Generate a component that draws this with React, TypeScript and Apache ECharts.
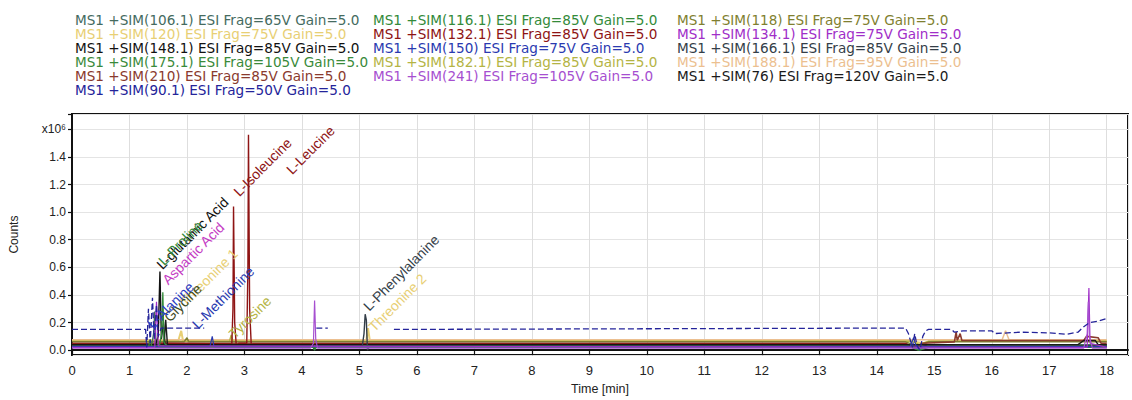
import { useEffect, useRef } from 'react';
import * as echarts from 'echarts';

const FONT = '"Liberation Sans", Arial, sans-serif';
const LEGEND_FONT = '"DejaVu Sans", Verdana, sans-serif';

// ---- tick labels ----
const xTickValues = [0, 1, 2, 3, 4, 5, 6, 7, 8, 9, 10, 11, 12, 13, 14, 15, 16, 17, 18];
const yTickValues = [0, 0.2, 0.4, 0.6, 0.8, 1.0, 1.2, 1.4, 1.6];
const yTickLabels = ['0.0', '0.2', '0.4', '0.6', '0.8', '1.0', '1.2', '1.4', 'x10\u2076'];

// ---- channel names (legend) ----
const legendCol1 = [
  'MS1 +SIM(106.1) ESI Frag=65V Gain=5.0',
  'MS1 +SIM(120) ESI Frag=75V Gain=5.0',
  'MS1 +SIM(148.1) ESI Frag=85V Gain=5.0',
  'MS1 +SIM(175.1) ESI Frag=105V Gain=5.0',
  'MS1 +SIM(210) ESI Frag=85V Gain=5.0',
  'MS1 +SIM(90.1) ESI Frag=50V Gain=5.0',
];
const legendCol2 = [
  'MS1 +SIM(116.1) ESI Frag=85V Gain=5.0',
  'MS1 +SIM(132.1) ESI Frag=85V Gain=5.0',
  'MS1 +SIM(150) ESI Frag=75V Gain=5.0',
  'MS1 +SIM(182.1) ESI Frag=85V Gain=5.0',
  'MS1 +SIM(241) ESI Frag=105V Gain=5.0',
];
const legendCol3 = [
  'MS1 +SIM(118) ESI Frag=75V Gain=5.0',
  'MS1 +SIM(134.1) ESI Frag=75V Gain=5.0',
  'MS1 +SIM(166.1) ESI Frag=85V Gain=5.0',
  'MS1 +SIM(188.1) ESI Frag=95V Gain=5.0',
  'MS1 +SIM(76) ESI Frag=120V Gain=5.0',
];

// ---- series values: [time (min), counts (x10^6)] ----
const s106 = [[0, 0.04], [1.3, 0.04], [1.38, 0.02], [1.42, 0.12], [1.44, 0.28], [1.46, 0.06], [1.5, 0.04], [4.18, 0.04], [4.21, 0.005], [4.26, 0.04], [14.55, 0.04], [14.7, 0.015], [14.85, 0.04], [18, 0.04]];
const s120 = [[0, 0.07], [1.85, 0.07], [1.9, 0.14], [1.93, 0.07], [5.12, 0.07], [5.15, 0.16], [5.18, 0.07], [14.55, 0.07], [14.8, 0.05], [15, 0.07], [18, 0.07]];
const s148 = [[0, 0.035], [1.45, 0.035], [1.5, 0.1], [1.53, 0.57], [1.555, 0.08], [1.59, 0.2], [1.62, 0.03], [1.7, 0.035], [4.19, 0.035], [4.22, 0.0], [4.26, 0.035], [14.55, 0.035], [14.7, 0.005], [14.85, 0.035], [18, 0.03]];
const s175 = [[0, 0.02], [1.33, 0.02], [1.36, 0.08], [1.39, 0.02], [14.6, 0.02], [14.75, 0.0], [14.9, 0.02], [18, 0.02]];
const s210 = [[0, 0.05], [14.5, 0.05], [14.65, 0.02], [14.8, 0.05], [15.35, 0.06], [15.38, 0.13], [15.4, 0.07], [15.45, 0.12], [15.48, 0.07], [17.6, 0.07], [17.65, 0.1], [17.85, 0.09], [17.9, 0.05], [18, 0.05]];
const s90 = [[0, 0.15], [1.28, 0.15], [1.3, 0.02], [1.33, 0.3], [1.36, 0.05], [1.4, 0.38], [1.43, 0.08], [1.47, 0.33], [1.5, 0.1], [1.55, 0.16], [2.3, 0.16], [2.31, '-'], [4.25, 0.16], [4.45, 0.16], [4.46, '-'], [5.6, 0.15], [14.5, 0.16], [14.55, 0.12], [14.62, 0.02], [14.66, 0.12], [14.7, 0.03], [14.75, 0.0], [14.8, 0.1], [14.85, 0.14], [14.9, 0.15], [15.3, 0.15], [15.35, 0.13], [15.5, 0.14], [16.0, 0.14], [16.05, 0.12], [16.5, 0.13], [17.0, 0.125], [17.3, 0.115], [17.5, 0.13], [17.6, 0.17], [17.7, 0.2], [17.85, 0.21], [18, 0.23]];
const s116 = [[0, 0.03], [1.52, 0.03], [1.56, 0.12], [1.58, 0.42], [1.6, 0.06], [1.64, 0.03], [4.19, 0.03], [4.22, 0.0], [4.26, 0.03], [14.55, 0.03], [14.72, 0.0], [14.88, 0.03], [18, 0.03]];
const s132 = [[0, 0.045], [1.3, 0.045], [1.35, 0.02], [1.5, 0.05], [2.78, 0.045], [2.8, 0.3], [2.81, 1.04], [2.83, 0.2], [2.86, 0.02], [2.9, 0.05], [3.04, 0.05], [3.06, 0.6], [3.07, 1.56], [3.09, 0.3], [3.12, 0.02], [3.15, 0.045], [14.5, 0.045], [14.6, 0.03], [14.8, 0.02], [15, 0.04], [18, 0.04]];
const s150 = [[0, 0.025], [2.4, 0.025], [2.44, 0.1], [2.47, 0.025], [14.58, 0.025], [14.64, 0.09], [14.7, 0.01], [14.8, 0.025], [18, 0.025]];
const s182 = [[0, 0.065], [2.74, 0.065], [2.77, 0.11], [2.8, 0.065], [14.6, 0.065], [14.75, 0.04], [14.9, 0.065], [18, 0.065]];
const s241 = [[0, 0.015], [4.15, 0.015], [4.2, 0.05], [4.22, 0.36], [4.24, 0.08], [4.27, 0.015], [17.6, 0.015], [17.66, 0.12], [17.68, 0.35], [17.7, 0.1], [17.75, 0.015], [18, 0.015]];
const s118 = [[0, 0.06], [1.95, 0.06], [2.0, 0.09], [2.03, 0.06], [14.5, 0.06], [14.7, 0.03], [14.9, 0.06], [18, 0.06]];
const s134 = [[0, 0.02], [1.44, 0.02], [1.47, 0.35], [1.5, 0.03], [17.66, 0.02], [17.69, 0.45], [17.71, 0.05], [18, 0.02]];
const s166 = [[0, 0.03], [5.05, 0.03], [5.08, 0.12], [5.1, 0.26], [5.12, 0.22], [5.14, 0.0], [5.18, 0.03], [18, 0.03]];
const s188 = [[0, 0.075], [16.18, 0.075], [16.24, 0.14], [16.3, 0.075], [18, 0.075]];
const s76 = [[0, 0.04], [1.6, 0.04], [1.63, 0.22], [1.66, 0.04], [17.5, 0.04], [17.6, 0.07], [17.8, 0.07], [17.85, 0.04], [18, 0.04]];

// ---- peak annotations ----
const peakNames = ['L-Alanine', 'Glycine', 'L-Proline', 'L-glutamic Acid', 'Aspartic Acid', 'Threonine 1', 'L-Methionine', 'Tyrosine', 'L-Isoleucine', 'L-Leucine', 'L-Phenylalanine', 'Threonine 2'];
const peakChannel = ['90.1', '76', '116.1', '148.1', '134.1', '120', '150', '182.1', '132.1', '132.1', '166.1', '120'];
const peakTimes = [1.36, 1.65, 1.55, 1.52, 1.62, 1.93, 2.14, 2.78, 2.86, 3.78, 5.12, 5.21];
const peakCounts = [0.17, 0.22, 0.63, 0.6, 0.49, 0.33, 0.17, 0.1, 1.13, 1.29, 0.3, 0.15];

type Channel = { key: string; name: string; color: string; data: any[]; width: number; dashed?: boolean; labelColor?: string };

const channels: Channel[] = [
  { key: '120', name: legendCol1[1], color: '#e8cf74', data: s120, width: 2 },
  { key: '188.1', name: legendCol3[3], color: '#ecbf90', data: s188, width: 1.5 },
  { key: '182.1', name: legendCol2[3], color: '#b4b444', data: s182, width: 1.5 },
  { key: '118', name: legendCol3[0], color: '#7f7f30', data: s118, width: 1.5 },
  { key: '210', name: legendCol1[4], color: '#8a3a2e', data: s210, width: 1.6 },
  { key: '132.1', name: legendCol2[1], color: '#8e1414', data: s132, width: 1.4 },
  { key: '106.1', name: legendCol1[0], color: '#456b5f', data: s106, width: 1.4 },
  { key: '76', name: legendCol3[4], color: '#1a1a1a', data: s76, width: 1.4, labelColor: '#3c4a1e' },
  { key: '148.1', name: legendCol1[2], color: '#111111', data: s148, width: 1.4 },
  { key: '116.1', name: legendCol2[0], color: '#338a3a', data: s116, width: 1.3 },
  { key: '166.1', name: legendCol3[2], color: '#343e48', data: s166, width: 1.4 },
  { key: '175.1', name: legendCol1[3], color: '#3a8a3a', data: s175, width: 1.2 },
  { key: '150', name: legendCol2[2], color: '#2a3ab0', data: s150, width: 1.2 },
  { key: '134.1', name: legendCol3[1], color: '#a02ec8', data: s134, width: 1.2, labelColor: '#c43cc4' },
  { key: '241', name: legendCol2[4], color: '#a64fd0', data: s241, width: 1.2 },
  { key: '90.1', name: legendCol1[5], color: '#24249a', data: s90, width: 1.3, dashed: true, labelColor: '#2a3ac0' },
];

const colorOf = (n: string) => (channels.find((c) => c.name === n) as Channel).color;

export default function App() {
  const ref = useRef<HTMLDivElement>(null);
  useEffect(() => {
    if (!ref.current) return;
    const chart = echarts.init(ref.current, undefined, { renderer: 'svg' });

    const legendFor = (names: string[], left: number) => ({
      orient: 'vertical',
      left,
      top: 13,
      padding: 0,
      itemGap: 0,
      itemWidth: 0,
      itemHeight: 14,
      icon: 'none',
      selectedMode: false,
      textStyle: { fontSize: 13.6, fontFamily: LEGEND_FONT, lineHeight: 14 },
      data: names.map((n) => ({ name: n, icon: 'none', textStyle: { color: colorOf(n) } })),
    });

    const series = channels.map((c) => {
      const marks = peakNames
        .map((txt, i) => ({ txt, i }))
        .filter(({ i }) => peakChannel[i] === c.key)
        .map(({ txt, i }) => ({
          coord: [peakTimes[i], peakCounts[i]],
          symbol: 'circle',
          symbolSize: 1,
          itemStyle: { color: 'rgba(0,0,0,0)' },
          label: {
            show: true,
            formatter: txt,
            position: [0, 0],
            align: 'left',
            verticalAlign: 'middle',
            rotate: 45,
            color: c.labelColor || c.color,
            fontSize: 14,
            fontFamily: FONT,
          },
        }));
      return {
        name: c.name,
        type: 'line',
        data: c.data,
        showSymbol: false,
        symbol: 'none',
        connectNulls: false,
        silent: true,
        lineStyle: { color: c.color, width: c.width, type: c.dashed ? [6, 3] : 'solid' },
        itemStyle: { color: c.color },
        markPoint: marks.length ? { silent: true, animation: false, data: marks } : undefined,
      };
    });

    chart.setOption({
      animation: false,
      backgroundColor: '#ffffff',
      textStyle: { fontFamily: FONT },
      legend: [legendFor(legendCol1, 70), legendFor(legendCol2, 368), legendFor(legendCol3, 672)],
      grid: {
        left: 70,
        right: 4,
        top: 114,
        bottom: 44,
        show: true,
        borderColor: '#111',
        borderWidth: 2,
        backgroundColor: 'rgba(0,0,0,0)',
      },
      xAxis: {
        type: 'value',
        min: 0,
        max: 18.37,
        interval: 1,
        name: 'Time [min]',
        nameLocation: 'middle',
        nameGap: 26,
        nameTextStyle: { fontSize: 12.5, color: '#222', fontFamily: FONT },
        axisLine: { show: true, lineStyle: { color: '#111', width: 2 } },
        axisTick: { show: true, length: 5, lineStyle: { color: '#111', width: 1.2 } },
        axisLabel: {
          margin: 9,
          fontSize: 13,
          color: '#222',
          fontFamily: FONT,
          showMaxLabel: false,
          formatter: (v: number) => {
            const k = xTickValues.findIndex((t) => Math.abs(t - v) < 1e-6);
            return k >= 0 ? String(xTickValues[k]) : '';
          },
        },
        splitLine: { show: true, lineStyle: { color: '#dedede', width: 1 } },
      },
      yAxis: {
        type: 'value',
        min: -0.036,
        max: 1.711,
        splitNumber: 9,
        minInterval: 0.2,
        maxInterval: 0.2,
        name: 'Counts',
        nameLocation: 'middle',
        nameGap: 52,
        nameRotate: 90,
        nameTextStyle: { fontSize: 12, color: '#222', fontFamily: FONT },
        axisLine: { show: true, lineStyle: { color: '#111', width: 2 } },
        axisTick: { show: true, length: 4, lineStyle: { color: '#111', width: 1.2 } },
        axisLabel: {
          margin: 6,
          fontSize: 12,
          color: '#222',
          fontFamily: FONT,
          showMinLabel: false,
          formatter: (v: number) => {
            const k = yTickValues.findIndex((t) => Math.abs(t - v) < 1e-6);
            return k >= 0 ? yTickLabels[k] : '';
          },
        },
        splitLine: { show: true, lineStyle: { color: '#e4e4e4', width: 1 } },
      },
      series,
    });

    return () => chart.dispose();
  }, []);

  return (
    <div
      ref={ref}
      style={{ position: 'fixed', left: 0, top: 0, width: 1132, height: 400, background: '#fff' }}
    />
  );
}
